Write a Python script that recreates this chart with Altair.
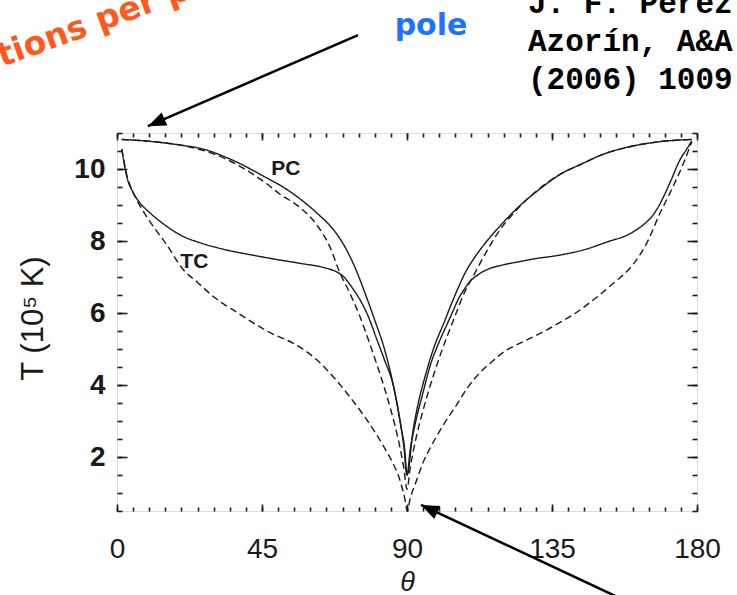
import math
import altair as alt
import pandas as pd

# ---------------------------------------------------------------
# Surface temperature profiles T(theta) of a magnetised neutron star
# PC / TC = poloidal / toroidal-core configurations, solid & dashed
# ---------------------------------------------------------------

pc_solid_theta = [1.5, 10, 20, 26, 35, 46.5, 52.4, 56.8, 62, 67.2, 70, 73.3, 77.6, 80, 83, 85.5, 87.5, 89, 90,
                  91.9, 93.5, 95.5, 98, 101.8, 104, 108.5, 111.6, 115, 118.9, 125, 131.3, 137.5, 144.7, 150,
                  158.2, 168.5, 178.4]
pc_solid_T = [10.82, 10.77, 10.66, 10.57, 10.28, 9.75, 9.45, 9.17, 8.78, 8.31, 7.95, 7.38, 6.4, 5.8, 5.0, 4.1,
              3.2, 2.3, 1.5,
              2.75, 3.5, 4.2, 4.95, 5.8, 6.3, 7.19, 7.62, 8.02, 8.42, 8.98, 9.45, 9.85, 10.16, 10.38,
              10.6, 10.76, 10.82]

pc_dashed_theta = [1.5, 10, 20, 30, 40, 46, 50.6, 56.8, 62, 66, 69.2, 72, 75.4, 79, 82, 85, 87.5, 89, 90,
                   91, 93, 95, 97.1, 100, 104.4, 108, 111, 114, 118, 124, 131, 137.5, 144.7, 150, 158.2,
                   168.5, 178.4]
pc_dashed_T = [10.82, 10.77, 10.66, 10.42, 9.98, 9.62, 9.3, 8.93, 8.45, 7.85, 7.11, 6.6, 5.9, 5.0, 4.2, 3.3,
               2.4, 1.7, 1.1,
               1.7, 2.6, 3.3, 3.95, 4.75, 5.8, 6.6, 7.1, 7.6, 8.2, 8.86, 9.45, 9.85, 10.16, 10.38, 10.6,
               10.76, 10.82]

tc_solid_theta = [1.5, 3, 5, 7.1, 10, 15.4, 20, 25.8, 33, 41.3, 50, 56.8, 65.1, 68, 70.3, 73, 76.5, 78, 80.5,
                  83, 85.7, 88.1, 89.3, 90,
                  91, 92.5, 95, 97.1, 100, 102.5, 104.4, 106, 107.5, 109.6, 112, 114.7, 120, 125.1, 129.2,
                  137.5, 144.7, 153, 158, 161, 164, 166, 168, 170, 172, 174.5, 176.8, 178.4]
tc_solid_T = [10.55, 9.8, 9.35, 9.06, 8.8, 8.41, 8.15, 7.95, 7.77, 7.62, 7.48, 7.38, 7.24, 7.15, 7.01, 6.7,
              6.19, 5.9, 5.3, 4.7, 4.0, 2.85, 2.2, 1.5,
              2.2, 2.9, 3.8, 4.51, 5.2, 5.7, 6.08, 6.4, 6.62, 6.88, 7.06, 7.2, 7.34, 7.43, 7.5,
              7.61, 7.75, 8.0, 8.15, 8.3, 8.5, 8.68, 8.95, 9.3, 9.7, 10.22, 10.55, 10.78]

tc_dashed_theta = [1.5, 3, 5.1, 8, 11.3, 15, 20.6, 25, 30, 37.5, 46.5, 56.8, 62, 66.6, 72, 77, 80, 82.7, 85.5,
                   87.8, 89.4, 90.1,
                   90.9, 93, 95, 97.5, 101, 105.4, 109, 112.7, 116, 120.9, 125.1, 133.4, 137.5, 140.6, 147.8,
                   155, 158.2, 161, 164.4, 168.5, 171.6, 175.8, 178.4]
tc_dashed_T = [10.55, 9.85, 9.33, 8.85, 8.4, 7.95, 7.2, 6.85, 6.45, 6.0, 5.5, 5.05, 4.7, 4.28, 3.7, 3.1, 2.7,
               2.3, 1.85, 1.36, 0.81, 0.5,
               0.81, 1.36, 1.85, 2.3, 2.85, 3.45, 3.95, 4.35, 4.62, 4.97, 5.16, 5.53, 5.74, 5.9, 6.36,
               6.9, 7.15, 7.45, 7.94, 8.77, 9.33, 10.16, 10.76]

curve_names = ["PC solid", "PC dashed", "TC solid", "TC dashed"]
curve_styles = ["solid", "dashed", "solid", "dashed"]
curve_theta = [pc_solid_theta, pc_dashed_theta, tc_solid_theta, tc_dashed_theta]
curve_T = [pc_solid_T, pc_dashed_T, tc_solid_T, tc_dashed_T]

# in-plot curve labels
label_text = ["PC", "TC"]
label_theta = [52.4, 24.0]
label_T = [10.0, 7.43]

# annotation arrows (data coordinates; tails lie outside the frame)
arrow_tip_theta = [9.6, 94.35]
arrow_tip_T = [11.19, 0.67]
arrow_tail_theta = [74.8, 154.6]
arrow_tail_T = [13.72, -1.86]

x_major = [0, 45, 90, 135, 180]
x_minor = list(range(0, 181, 5))
y_major = [2, 4, 6, 8, 10]
y_minor = [v / 2 for v in range(1, 23)]

# ---------------------------------------------------------------
W, H = 580, 378
X_DOMAIN = [0, 180]
Y_DOMAIN = [0.5, 11.0]
INK = "#1a1a1a"
FONT = "Liberation Sans"

rows = []
for name, style, th, tv in zip(curve_names, curve_styles, curve_theta, curve_T):
    for a, b in zip(th, tv):
        rows.append({"curve": name, "style": style, "theta": a, "T": b})
df = pd.DataFrame(rows)

labels_df = pd.DataFrame({"text": label_text, "theta": label_theta, "T": label_T})

px_per_x = W / (X_DOMAIN[1] - X_DOMAIN[0])
px_per_y = H / (Y_DOMAIN[1] - Y_DOMAIN[0])
angles = []
for tx, ty, sx, sy in zip(arrow_tip_theta, arrow_tip_T, arrow_tail_theta, arrow_tail_T):
    dx = (tx - sx) * px_per_x
    dy = -(ty - sy) * px_per_y
    angles.append(math.degrees(math.atan2(dy, dx)) % 360)
arrows_df = pd.DataFrame({
    "tip_theta": arrow_tip_theta, "tip_T": arrow_tip_T,
    "tail_theta": arrow_tail_theta, "tail_T": arrow_tail_T, "ang": angles,
})

x_scale = alt.Scale(domain=X_DOMAIN, nice=False, zero=False)
y_scale = alt.Scale(domain=Y_DOMAIN, nice=False, zero=False)


def tick_axis(orient, offset, values, size):
    return alt.Axis(orient=orient, offset=offset, values=values, tickSize=size, tickWidth=1.6,
                    tickColor=INK, labels=False, domain=False, grid=False, title=None)


# curves, carrying the labelled bottom and left axes
curves = alt.Chart(df).mark_line(strokeWidth=1.4, color=INK, interpolate="monotone").encode(
    x=alt.X("theta:Q", scale=x_scale, axis=alt.Axis(
        orient="bottom", values=x_major, ticks=False, tickSize=0, domain=False, grid=False,
        labelFont=FONT, labelFontSize=28, labelColor=INK, labelPadding=24, labelFlush=False,
        title="θ", titleFont=FONT, titleFontSize=27, titleFontStyle="italic", titleFontWeight="normal",
        titleColor=INK, titleX=W / 2, titleY=71, titleBaseline="middle", titleAlign="center")),
    y=alt.Y("T:Q", scale=y_scale, axis=alt.Axis(
        orient="left", values=y_major, ticks=False, tickSize=0, domain=False, grid=False,
        labelFont=FONT, labelFontSize=28, labelColor=INK, labelPadding=12, labelFontWeight="bold",
        title="T (10⁵ K)", titleFont=FONT, titleFontSize=31, titleFontWeight="normal", titleColor=INK,
        titleAngle=270, titleX=-84, titleY=H / 2 - 4, titleBaseline="middle", titleAlign="center")),
    detail="curve:N",
    strokeDash=alt.StrokeDash("style:N", scale=alt.Scale(domain=["solid", "dashed"],
                                                         range=[[1, 0], [7, 4]]), legend=None),
)


# inward-pointing tick marks on all four sides, as extra axes on invisible layers
def tick_layer(xaxis, yaxis):
    return alt.Chart(df).mark_point(opacity=0).encode(
        x=alt.X("theta:Q", scale=x_scale, axis=xaxis),
        y=alt.Y("T:Q", scale=y_scale, axis=yaxis),
    )


ticks = [
    tick_layer(tick_axis("top", -H, x_major, 7), tick_axis("right", -W, y_major, 10)),
    tick_layer(tick_axis("top", -H, x_minor, 4), tick_axis("right", -W, y_minor, 5)),
    tick_layer(tick_axis("bottom", -H, x_major, 7), tick_axis("left", -W, y_major, 10)),
    tick_layer(tick_axis("bottom", -H, x_minor, 4), tick_axis("left", -W, y_minor, 5)),
]

curve_labels = alt.Chart(labels_df).mark_text(font=FONT, fontSize=21, fontWeight="bold", color=INK).encode(
    x=alt.X("theta:Q", scale=x_scale, axis=None),
    y=alt.Y("T:Q", scale=y_scale, axis=None),
    text="text:N",
)

arrow_shafts = alt.Chart(arrows_df).mark_rule(color="black", strokeWidth=2.5).encode(
    x=alt.X("tail_theta:Q", scale=x_scale, axis=None),
    y=alt.Y("tail_T:Q", scale=y_scale, axis=None),
    x2="tip_theta:Q",
    y2="tip_T:Q",
)
arrow_heads = alt.Chart(arrows_df).mark_point(
    shape="M0,0 L-1,-0.4 L-1,0.4 Z", filled=True, color="black", opacity=1, size=1296
).encode(
    x=alt.X("tip_theta:Q", scale=x_scale, axis=None),
    y=alt.Y("tip_T:Q", scale=y_scale, axis=None),
    angle=alt.Angle("ang:Q", scale=None),
)

# slide annotations around the figure
pole_text = alt.Chart(pd.DataFrame({"t": ["pole"]})).mark_text(
    font="DejaVu Sans", fontWeight="bold", fontSize=30, color="#1f72ff", align="center",
    baseline="alphabetic").encode(x=alt.value(314), y=alt.value(-98), text="t:N")

ref_text = alt.Chart(pd.DataFrame({"t": ["J. F. Pérez\nAzorín, A&A 451\n(2006) 1009"]})).mark_text(
    font="Liberation Mono", fontWeight="bold", fontSize=31, color="black", align="left",
    baseline="alphabetic", lineBreak="\n", lineHeight=38).encode(
    x=alt.value(411), y=alt.value(-120), text="t:N")

red_text = alt.Chart(pd.DataFrame({"t": ["variations per pole"]})).mark_text(
    font="DejaVu Sans", fontWeight="bold", fontSize=33, color="#ff5a1e", align="left",
    baseline="alphabetic", angle=340).encode(x=alt.value(-203), y=alt.value(-34), text="t:N")

chart = alt.layer(
    curves, *ticks, curve_labels, arrow_shafts, arrow_heads, pole_text, ref_text, red_text
).resolve_axis(
    x="independent", y="independent"
).properties(
    width=W, height=H,
    autosize=alt.AutoSizeParams(type="none"),
    padding={"left": 117, "top": 133, "right": 40, "bottom": 84},
).configure_view(
    stroke=INK, strokeWidth=2
).configure(background="white")

chart.save("out.html", embed_options={"renderer": "svg", "actions": False})
